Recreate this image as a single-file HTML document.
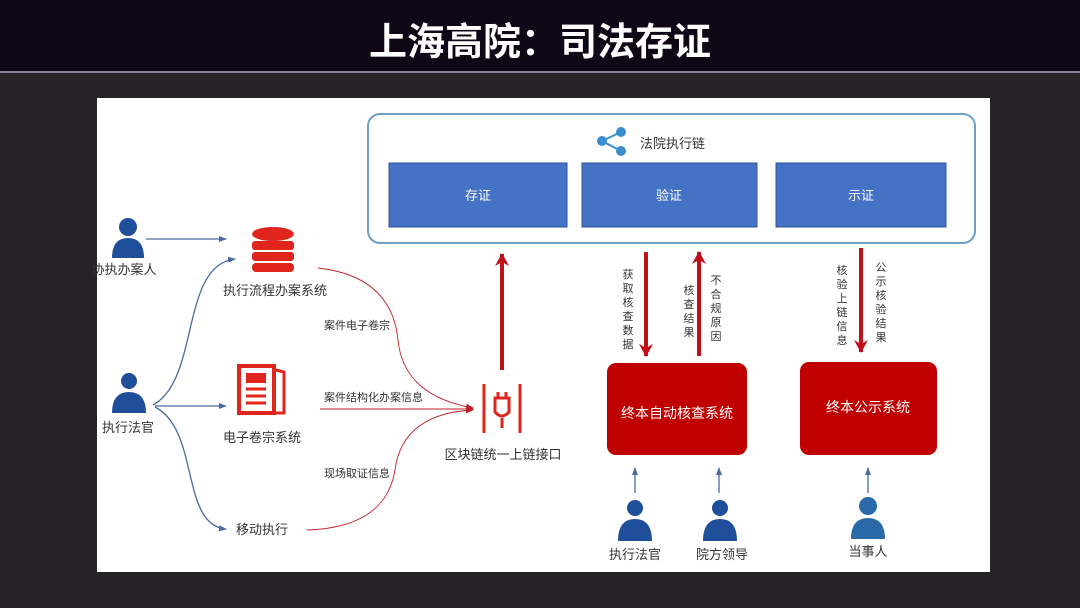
<!DOCTYPE html>
<html><head><meta charset="utf-8"><style>
html,body{margin:0;padding:0;width:1080px;height:608px;overflow:hidden;background:#262326;}
svg{display:block}
text{font-family:"Liberation Sans","Noto Sans CJK SC",sans-serif;}
</style></head><body>
<svg width="1080" height="608" viewBox="0 0 1080 608" xmlns="http://www.w3.org/2000/svg">
<defs>
<marker id="ab" markerWidth="8" markerHeight="8" refX="7" refY="4" orient="auto" markerUnits="userSpaceOnUse"><path d="M0,1 L8,4 L0,7 Z" fill="#4a6aa0"/></marker>
<marker id="ar" markerWidth="8" markerHeight="8" refX="7" refY="4" orient="auto" markerUnits="userSpaceOnUse"><path d="M0,1 L8,4 L0,7 Z" fill="#c0202a"/></marker>
<marker id="abig" markerWidth="14" markerHeight="14" refX="12" refY="7" orient="auto" markerUnits="userSpaceOnUse"><path d="M0,0 L13,7 L0,14 L4,7 Z" fill="#c0101a"/></marker>
</defs>
<rect x="0" y="0" width="1080" height="72" fill="#0f0715"/>
<rect x="0" y="71" width="1080" height="2" fill="#8a8296"/>
<rect x="0" y="73" width="1080" height="535" fill="#262326"/>
<text x="540" y="55" font-size="38" font-weight="bold" fill="#fff" text-anchor="middle">上海高院：司法存证</text>
<rect x="97" y="98" width="893" height="474" fill="#fff"/>
<!-- chain box -->
<rect x="368" y="114" width="607" height="129" rx="12" fill="#fff" stroke="#6fa0c8" stroke-width="2"/>
<g fill="#3a8ed0"><circle cx="602" cy="141" r="5"/><circle cx="621" cy="132" r="5"/><circle cx="621" cy="151" r="5"/></g>
<path d="M602 141 L621 132 M602 141 L621 151" stroke="#3a8ed0" stroke-width="2"/>
<text x="640" y="148" font-size="13" fill="#333">法院执行链</text>
<rect x="389" y="163" width="178" height="64" fill="#4472c4" stroke="#2f5597"/>
<rect x="582" y="163" width="175" height="64" fill="#4472c4" stroke="#2f5597"/>
<rect x="776" y="163" width="170" height="64" fill="#4472c4" stroke="#2f5597"/>
<text x="478" y="200" font-size="13" fill="#fff" text-anchor="middle">存证</text>
<text x="669" y="200" font-size="13" fill="#fff" text-anchor="middle">验证</text>
<text x="861" y="200" font-size="13" fill="#fff" text-anchor="middle">示证</text>
<!-- people left -->
<g fill="#1f4e9a">
<circle cx="128" cy="227" r="9"/><path d="M112 258 Q112 238 128 238 Q144 238 144 258 Z"/>
<circle cx="129" cy="381" r="8"/><path d="M112 413 Q112 392 129 392 Q146 392 146 413 Z"/>
</g>
<text x="124" y="274" font-size="13" fill="#333" text-anchor="middle">协执办案人</text>
<text x="128" y="432" font-size="13" fill="#333" text-anchor="middle">执行法官</text>
<!-- db icon -->
<g fill="#e0261c">
<ellipse cx="273" cy="234" rx="21" ry="7"/><rect x="252" y="241" width="42" height="9" rx="3"/><rect x="252" y="252" width="42" height="9" rx="3"/><rect x="252" y="263" width="42" height="9" rx="4"/>
</g>
<text x="275" y="295" font-size="13" fill="#333" text-anchor="middle">执行流程办案系统</text>
<!-- newspaper -->
<rect x="239" y="366" width="35" height="47" fill="none" stroke="#e0261c" stroke-width="4"/>
<path d="M276 370 L284 372 L284 413 L276 413" fill="none" stroke="#e0261c" stroke-width="3"/>
<rect x="246" y="373" width="20" height="10" fill="#e0261c"/>
<path d="M246 389 H266 M246 396 H266 M246 403 H266" stroke="#e0261c" stroke-width="3"/>
<text x="262" y="442" font-size="13" fill="#333" text-anchor="middle">电子卷宗系统</text>
<text x="262" y="534" font-size="13" fill="#333" text-anchor="middle">移动执行</text>
<!-- blue arrows -->
<g fill="none" stroke="#4a6aa0" stroke-width="1.3">
<path d="M146 239 L226 239" marker-end="url(#ab)"/>
<path d="M153 405 C200 380 180 265 235 259" marker-end="url(#ab)"/>
<path d="M155 406 L226 406" marker-end="url(#ab)"/>
<path d="M155 407 C200 430 180 525 226 529" marker-end="url(#ab)"/>
</g>
<!-- red thin curves -->
<g fill="none" stroke="#c0202a" stroke-width="0.9">
<path d="M318 268 C380 275 395 310 398 340 C402 380 430 400 473 408" marker-end="url(#ar)"/>
<path d="M320 409 L473 409" marker-end="url(#ar)"/>
<path d="M307 530 C370 528 390 500 395 470 C400 430 430 412 473 410" marker-end="url(#ar)"/>
</g>
<text x="324" y="329" font-size="11" fill="#333">案件电子卷宗</text>
<text x="324" y="401" font-size="11" fill="#333">案件结构化办案信息</text>
<text x="324" y="477" font-size="11" fill="#333">现场取证信息</text>
<!-- plug icon -->
<g stroke="#e0261c" stroke-width="3" fill="none">
<path d="M484 384 V433 M520 384 V433"/>
<path d="M495 398 V412 Q502 420 509 412 V398 Z M502 418 V428 M498 392 V398 M506 392 V398"/>
</g>
<text x="503" y="459" font-size="13" fill="#333" text-anchor="middle">区块链统一上链接口</text>
<!-- big red arrows -->
<g stroke="#c0101a" stroke-width="4" fill="none">
<path d="M502 370 L502 254" marker-end="url(#abig)"/>
<path d="M646 252 L646 356" marker-end="url(#abig)"/>
<path d="M699 356 L699 252" marker-end="url(#abig)"/>
<path d="M861 248 L861 352" marker-end="url(#abig)"/>
</g>
<g font-size="11" fill="#333" text-anchor="middle">
<text x="628" y="278">获</text><text x="628" y="292">取</text><text x="628" y="306">核</text><text x="628" y="320">查</text><text x="628" y="334">数</text><text x="628" y="348">据</text>
<text x="689" y="294">核</text><text x="689" y="308">查</text><text x="689" y="322">结</text><text x="689" y="336">果</text>
<text x="716" y="284">不</text><text x="716" y="298">合</text><text x="716" y="312">规</text><text x="716" y="326">原</text><text x="716" y="340">因</text>
<text x="842" y="274">核</text><text x="842" y="288">验</text><text x="842" y="302">上</text><text x="842" y="316">链</text><text x="842" y="330">信</text><text x="842" y="344">息</text>
<text x="881" y="271">公</text><text x="881" y="285">示</text><text x="881" y="299">核</text><text x="881" y="313">验</text><text x="881" y="327">结</text><text x="881" y="341">果</text>
</g>
<rect x="607" y="363" width="140" height="92" rx="9" fill="#c00000"/>
<rect x="800" y="362" width="137" height="93" rx="9" fill="#c00000"/>
<text x="677" y="418" font-size="14" fill="#fff" text-anchor="middle">终本自动核查系统</text>
<text x="868" y="412" font-size="14" fill="#fff" text-anchor="middle">终本公示系统</text>
<!-- bottom people -->
<g stroke="#4a6aa0" stroke-width="1.3">
<path d="M635 493 L635 468" marker-end="url(#ab)"/>
<path d="M719 493 L719 468" marker-end="url(#ab)"/>
<path d="M868 493 L868 468" marker-end="url(#ab)"/>
</g>
<g fill="#1f4e9a">
<circle cx="635" cy="508" r="8"/><path d="M618 541 Q618 519 635 519 Q652 519 652 541 Z"/>
<circle cx="720" cy="508" r="8"/><path d="M703 541 Q703 519 720 519 Q737 519 737 541 Z"/>
</g>
<g fill="#2a6aa8"><circle cx="868" cy="506" r="9"/><path d="M851 539 Q851 518 868 518 Q885 518 885 539 Z"/></g>
<text x="635" y="559" font-size="13" fill="#333" text-anchor="middle">执行法官</text>
<text x="722" y="559" font-size="13" fill="#333" text-anchor="middle">院方领导</text>
<text x="868" y="556" font-size="13" fill="#333" text-anchor="middle">当事人</text>
</svg>
</body></html>
